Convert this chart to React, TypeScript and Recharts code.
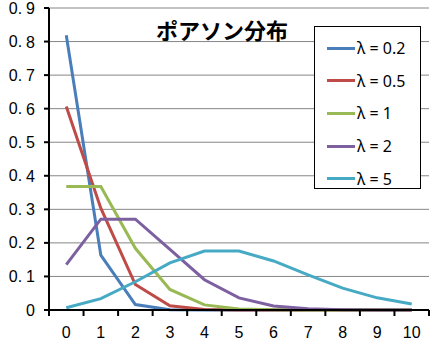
import React from "react";
import {
  LineChart,
  Line,
  XAxis,
  YAxis,
  CartesianGrid,
  Legend,
} from "recharts";

const categories = [0, 1, 2, 3, 4, 5, 6, 7, 8, 9, 10];
const lambda02 = [0.8187, 0.1637, 0.0164, 0.0011, 0.0001, 0, 0, 0, 0, 0, 0];
const lambda05 = [0.6065, 0.3033, 0.0758, 0.0126, 0.0016, 0.0002, 0, 0, 0, 0, 0];
const lambda1 = [0.3679, 0.3679, 0.1839, 0.0613, 0.0153, 0.0031, 0.0005, 0.0001, 0, 0, 0];
const lambda2 = [0.1353, 0.2707, 0.2707, 0.1804, 0.0902, 0.0361, 0.012, 0.0034, 0.0009, 0.0002, 0];
const lambda5 = [0.0067, 0.0337, 0.0842, 0.1404, 0.1755, 0.1755, 0.1462, 0.1044, 0.0653, 0.0363, 0.0181];
const yTicks = [0, 0.1, 0.2, 0.3, 0.4, 0.5, 0.6, 0.7, 0.8, 0.9];
const title = "ポアソン分布";

const series = [
  { key: "l02", name: "λ = 0.2", values: lambda02, color: "#4A7EBB" },
  { key: "l05", name: "λ = 0.5", values: lambda05, color: "#BE4B48" },
  { key: "l1", name: "λ = 1", values: lambda1, color: "#98B954" },
  { key: "l2", name: "λ = 2", values: lambda2, color: "#7D60A0" },
  { key: "l5", name: "λ = 5", values: lambda5, color: "#46AAC5" },
];

const data = categories.map((x, i) => {
  const row: Record<string, number> = { x };
  series.forEach((s) => (row[s.key] = s.values[i]));
  return row;
});

// integer positions carry labels, half positions carry the tick marks
const xTicks: number[] = [];
categories.forEach((c) => {
  xTicks.push(c - 0.5);
  xTicks.push(c);
});
xTicks.push(categories[categories.length - 1] + 0.5);

const axisFont = "'Liberation Sans', Arial, sans-serif";

const XTick = (props: any) => {
  const { x, y, payload } = props;
  const v = payload.value;
  if (Number.isInteger(v)) {
    return (
      <text x={x} y={y + 22} textAnchor="middle" dominantBaseline="central"
        fontFamily={axisFont} fontSize={16} fill="#000">
        {v}
      </text>
    );
  }
  return <line x1={x} x2={x} y1={y} y2={y + 6} stroke="#000" strokeWidth={2} />;
};

// wide gap after the decimal point, like the original's fixed-pitch numerals
const YTick = (props: any) => {
  const { x, y, payload } = props;
  const v = payload.value as number;
  if (v === 0) {
    return (
      <text x={x} y={y} textAnchor="end" dominantBaseline="central"
        fontFamily={axisFont} fontSize={16} fill="#000">0</text>
    );
  }
  const s = v.toFixed(1);
  return (
    <text x={x} y={y} textAnchor="end" dominantBaseline="central"
      fontFamily={axisFont} fontSize={16} fill="#000">
      {s.slice(0, 2)}
      <tspan dx={4}>{s.slice(2)}</tspan>
    </text>
  );
};

const renderLegend = (props: any) => {
  const { payload } = props;
  return (
    <div style={{ width: 107, height: 163, boxSizing: "border-box", border: "1px solid #000",
      background: "#fff", paddingTop: 5 }}>
      {payload.map((p: any) => (
        <div key={p.value} style={{ display: "flex", alignItems: "center", height: 32.6,
          paddingLeft: 12 }}>
          <div style={{ width: 28, height: 3, background: p.color, marginRight: 2 }} />
          <span style={{ fontFamily: "'Noto Sans', sans-serif", fontSize: 16, color: "#000",
            whiteSpace: "nowrap" }}>{p.value}</span>
        </div>
      ))}
    </div>
  );
};

export default function App() {
  return (
    <div style={{ position: "absolute", left: 0, top: 0, width: 437, height: 349, background: "#fff" }}>
      <LineChart width={437} height={349} data={data}
        margin={{ top: 8, right: 8, left: 0, bottom: 0 }}>
        <CartesianGrid vertical={false} stroke="#868686" strokeWidth={1} />
        <XAxis dataKey="x" type="number" domain={[-0.5, 10.5]} ticks={xTicks}
          interval={0} height={39} tickSize={0} tickMargin={0} tickLine={false}
          axisLine={{ stroke: "#000", strokeWidth: 2 }} tick={<XTick />} />
        <YAxis type="number" domain={[0, 0.9]} ticks={yTicks} width={49}
          tickSize={5} tickMargin={9} interval={0}
          tickLine={{ stroke: "#000", strokeWidth: 2 }}
          axisLine={{ stroke: "#000", strokeWidth: 2 }}
          tick={<YTick />} />
        <Legend layout="vertical" align="center" verticalAlign="middle" content={renderLegend}
          wrapperStyle={{ position: "absolute", left: 314, top: 26, width: 107, height: 163 }} />
        {series.map((s) => (
          <Line key={s.key} type="linear" dataKey={s.key} name={s.name} stroke={s.color}
            strokeWidth={3} dot={false} activeDot={false} isAnimationActive={false} />
        ))}
      </LineChart>
      <div style={{ position: "absolute", left: 222, top: 29, transform: "translate(-50%, -50%)",
        fontFamily: "'Noto Sans CJK JP', sans-serif", fontWeight: 700, fontSize: 22,
        lineHeight: 1, whiteSpace: "nowrap", color: "#000" }}>
        {title}
      </div>
    </div>
  );
}
